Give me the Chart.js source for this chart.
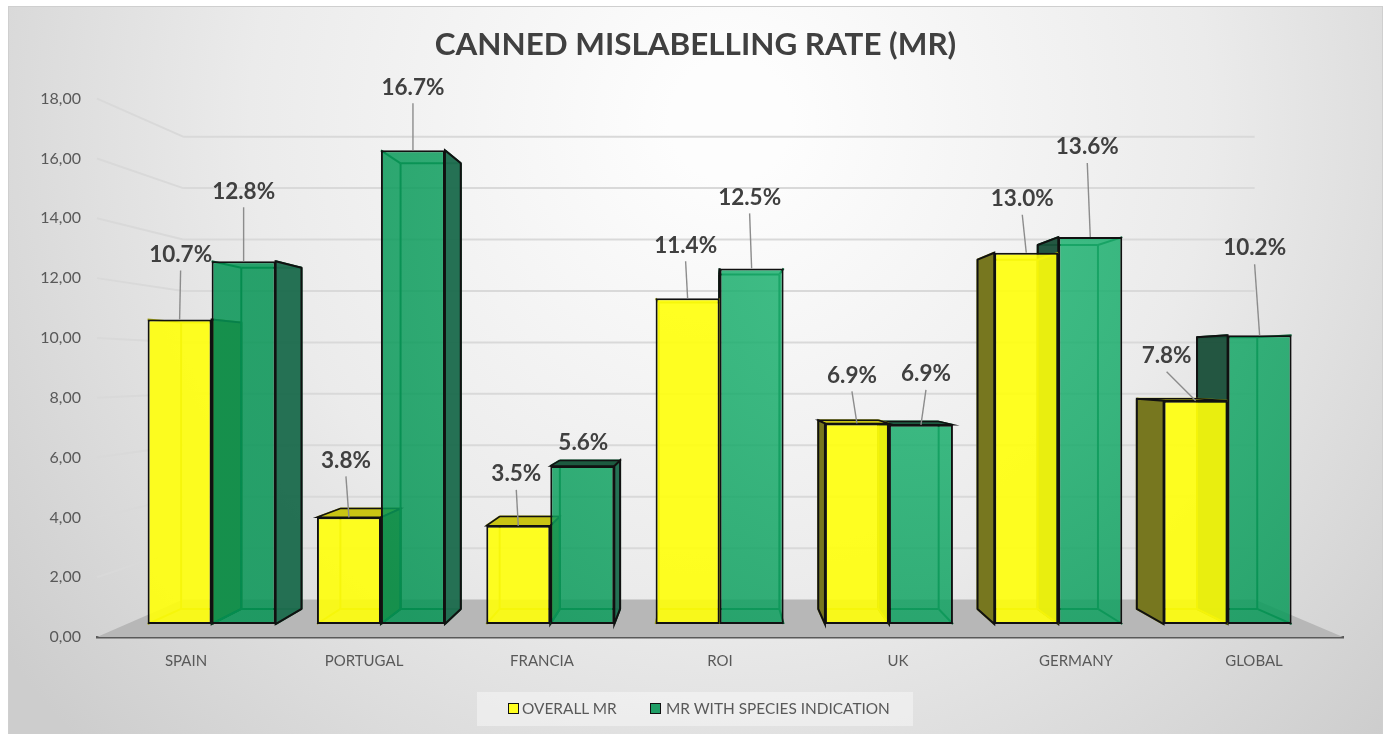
<!DOCTYPE html>
<html>
<head>
<meta charset="utf-8">
<title>Canned mislabelling rate</title>
<style>
  html, body { margin: 0; padding: 0; background: #fff; }
  canvas { display: block; }
  #wrap { position: relative; width: 1386px; height: 734px; overflow: hidden; }
  #legenda {
    position: absolute; left: 477px; top: 692px; width: 436px; height: 34px;
    background: rgba(255,255,255,0.4);
    font: 15.4px Lato; color: #595959;
  }
  .legenda-cor { position: absolute; top: 11px; width: 11px; height: 11px; box-sizing: border-box; border: 1.5px solid #111; }
  .legenda-txt { position: absolute; top: 7px; white-space: nowrap; }
</style>
</head>
<body>
<div id="wrap">
  <canvas id="grafico" width="1386" height="734"></canvas>
  <div id="legenda"></div>
</div>
<script src="https://cdn.jsdelivr.net/npm/chart.js@4"></script>
<script>
const categories = ['SPAIN', 'PORTUGAL', 'FRANCIA', 'ROI', 'UK', 'GERMANY', 'GLOBAL'];
// bar heights
const overallMr = [10.7, 3.75, 3.45, 11.45, 7.05, 13.05, 7.85];
const speciesMr = [12.75, 16.65, 5.55, 12.5, 7.0, 13.6, 10.15];
// printed labels, they differ a little from the heights in the original
const overallLabels = ['10.7%', '3.8%', '3.5%', '11.4%', '6.9%', '13.0%', '7.8%'];
const speciesLabels = ['12.8%', '16.7%', '5.6%', '12.5%', '6.9%', '13.6%', '10.2%'];
const yTickLabels = ['0,00', '2,00', '4,00', '6,00', '8,00', '10,00', '12,00', '14,00', '16,00', '18,00'];

// where each value label sits, relative to the top centre of its bar
const overallLabelOffsets = [[1, -65], [-3, -57], [-2, -52], [-2, -53], [-5, -48], [-4, -54], [-29, -45]];
const speciesLabelOffsets = [[0, -70], [0, -63], [1, -23], [-2, -71], [5, -51], [-3, -90], [-5, -87]];

// perspective of the picture
const area = { left: 97, right: 1343, top: 98, bottom: 637 };
const vp = { x: 712, y: 370 };
const wallK = 0.14;   // front of the axes -> back wall
const frontK = 0.0487; // front of the axes -> front of the bars
const depthK = 0.0593; // front of the bars -> back of the bars

const pxPerUnit = (area.bottom - area.top) / 18;
const groupStep = (area.right - area.left) / categories.length * (1 - frontK);
const firstGroupX = toward({ x: area.left + (area.right - area.left) / categories.length / 2, y: 0 }, frontK).x;
const baseY = toward({ x: 0, y: area.bottom }, frontK).y;

function toward(p, k) {
  return { x: p.x + k * (vp.x - p.x), y: p.y + k * (vp.y - p.y) };
}

const estilos = {
  yellow: { sideL: '#77771f', sideR: '#77771f', top: '#c9c414', inner: 'rgba(160,160,0,0.9)' },
  green: { sideL: 'rgba(24,78,56,0.95)', sideR: 'rgba(30,108,78,0.97)', top: '#1d5a40', inner: '#005f30' }
};

function drawPoly(ctx, pts, fill, stroke, width) {
  ctx.beginPath();
  pts.forEach((p, i) => i ? ctx.lineTo(p.x, p.y) : ctx.moveTo(p.x, p.y));
  ctx.closePath();
  if (fill) { ctx.fillStyle = fill; ctx.fill(); }
  if (stroke) { ctx.strokeStyle = stroke; ctx.lineWidth = width; ctx.stroke(); }
}

function drawLine(ctx, a, b, color, width) {
  ctx.beginPath();
  ctx.moveTo(a.x, a.y);
  ctx.lineTo(b.x, b.y);
  ctx.strokeStyle = color;
  ctx.lineWidth = width;
  ctx.stroke();
}

// everything of one box that lies behind its front face
function drawBox(ctx, el, style) {
  const l = el.x - el.width / 2, r = el.x + el.width / 2;
  const ftl = { x: l, y: el.y }, ftr = { x: r, y: el.y }, fbl = { x: l, y: el.base }, fbr = { x: r, y: el.base };
  const btl = toward(ftl, depthK), btr = toward(ftr, depthK), bbl = toward(fbl, depthK), bbr = toward(fbr, depthK);

  // hidden edges first
  [[btl, btr], [bbl, bbr], [btl, bbl], [btr, bbr], [fbl, bbl], [fbr, bbr], [ftl, btl], [ftr, btr]].forEach(e => {
    drawLine(ctx, e[0], e[1], style.inner, 2);
  });

  if (btl.y < ftl.y) drawPoly(ctx, [ftl, ftr, btr, btl], style.top, '#111', 1.5);
  if (btr.x > ftr.x) drawPoly(ctx, [ftr, btr, bbr, fbr], style.sideR, '#111', 2);
  if (btl.x < ftl.x) drawPoly(ctx, [ftl, btl, bbl, fbl], style.sideL, '#111', 2);
}

const scene3d = {
  id: 'scene3d',
  afterLayout(chart) {
    // the title is centred on the frame, not on the padded box
    chart.titleBlock.left += 8;
    chart.titleBlock.right += 8;
  },
  beforeDraw(chart) {
    const ctx = chart.ctx;
    ctx.save();
    const bg = ctx.createRadialGradient(730, 120, 60, 730, 120, 900);
    bg.addColorStop(0, '#fdfdfd');
    bg.addColorStop(0.5, '#ebebeb');
    bg.addColorStop(1, '#cdcdcd');
    ctx.fillStyle = bg;
    ctx.fillRect(8, 6, 1375, 728);
    ctx.strokeStyle = '#cfcfcf';
    ctx.lineWidth = 1;
    ctx.strokeRect(8.5, 6.5, 1374, 730);
    ctx.restore();
  },
  beforeDatasetsDraw(chart) {
    const ctx = chart.ctx;
    const y = chart.scales.y;
    ctx.save();

    // floor
    const fl = { x: area.left, y: area.bottom }, fr = { x: area.right, y: area.bottom };
    drawPoly(ctx, [fl, fr, toward(fr, wallK), toward(fl, wallK)], '#b7b7b7');

    // wall grid, one line per tick
    y.ticks.forEach((t, i) => {
      if (i === 0) return;
      const py = y.getPixelForTick(i);
      const a = { x: area.left, y: py };
      const b = toward(a, wallK);
      const c = { x: toward({ x: area.right, y: py }, wallK).x, y: b.y };
      drawLine(ctx, a, b, '#d9d9d9', 2);
      drawLine(ctx, b, c, '#d9d9d9', 2);
    });

    // boxes go back to front, the outer one of a pair first
    const m0 = chart.getDatasetMeta(0).data, m1 = chart.getDatasetMeta(1).data;
    categories.forEach((c, i) => {
      if (m0[i].x + m0[i].width / 2 < vp.x) {
        drawBox(ctx, m0[i], estilos.yellow);
        drawBox(ctx, m1[i], estilos.green);
      } else {
        drawBox(ctx, m1[i], estilos.green);
        drawBox(ctx, m0[i], estilos.yellow);
      }
    });
    ctx.restore();
  },
  afterDatasetsDraw(chart) {
    const ctx = chart.ctx;
    ctx.save();
    ctx.textAlign = 'center';
    ctx.textBaseline = 'middle';
    ctx.font = 'bold 22.5px Lato';
    [[overallLabels, overallLabelOffsets], [speciesLabels, speciesLabelOffsets]].forEach((par, d) => {
      const els = chart.getDatasetMeta(d).data;
      par[0].forEach((txt, i) => {
        const el = els[i];
        const lx = el.x + par[1][i][0], ly = el.y + par[1][i][1];
        if (el.y - ly > 30) drawLine(ctx, { x: lx, y: ly + 16 }, { x: el.x, y: el.y }, '#8c8c8c', 1.4);
        ctx.fillStyle = '#404040';
        ctx.fillText(txt, lx, ly);
      });
    });
    ctx.restore();
  }
};

function verde(context) {
  const g = context.chart.ctx.createRadialGradient(920, 230, 100, 920, 230, 640);
  g.addColorStop(0, 'rgba(32,180,115,0.85)');
  g.addColorStop(1, 'rgba(5,148,84,0.85)');
  return g;
}

const chart = new Chart(document.getElementById('grafico'), {
  type: 'bar',
  plugins: [scene3d],
  data: {
    datasets: [
      {
        label: 'OVERALL MR',
        data: overallMr.map((v, i) => ({ x: i, y: v })),
        backgroundColor: 'rgba(255,255,10,0.9)',
        borderColor: '#111',
        borderWidth: 2,
        borderSkipped: false,
        xAxisID: 'xf',
        yAxisID: 'yf',
        categoryPercentage: 0.756,
        barPercentage: 1
      },
      {
        label: 'MR WITH SPECIES INDICATION',
        data: speciesMr.map((v, i) => ({ x: i, y: v })),
        backgroundColor: verde,
        borderColor: '#111',
        borderWidth: 2,
        borderSkipped: false,
        xAxisID: 'xf',
        yAxisID: 'yf',
        categoryPercentage: 0.756,
        barPercentage: 1
      }
    ]
  },
  options: {
    responsive: false,
    animation: false,
    layout: { padding: { left: 32, right: 43, top: 6, bottom: 57 } },
    scales: {
      x: {
        type: 'category',
        labels: categories,
        offset: true,
        z: 1,
        afterFit(scale) { scale.height = 40; },
        grid: { display: false, drawTicks: false },
        border: { display: true, color: '#595959', width: 2.5 },
        ticks: { color: '#595959', font: { family: 'Lato', size: 15 }, padding: 15, maxRotation: 0 }
      },
      y: {
        min: 0,
        max: 18,
        afterFit(scale) { scale.width = 65; },
        grid: { display: false, drawTicks: false },
        border: { display: false },
        ticks: {
          stepSize: 2,
          color: '#595959',
          padding: 16,
          font: { family: 'Lato', size: 16 },
          callback: (v, i) => yTickLabels[i]
        }
      },
      // front plane of the bars, same chart area but pulled toward the vanishing point
      xf: {
        type: 'linear',
        axis: 'x',
        display: false,
        offset: false,
        min: (area.left - firstGroupX) / groupStep,
        max: (area.right - firstGroupX) / groupStep
      },
      yf: {
        type: 'linear',
        axis: 'y',
        display: false,
        min: (baseY - area.bottom) / (pxPerUnit * (1 - frontK)),
        max: (baseY - area.top) / (pxPerUnit * (1 - frontK))
      }
    },
    plugins: {
      tooltip: { enabled: false },
      legend: { display: false },
      title: {
        display: true,
        text: 'CANNED MISLABELLING RATE (MR)',
        color: '#404040',
        font: { family: 'Lato', size: 31.4, weight: 'bold' },
        padding: { top: 20, bottom: 35 }
      }
    }
  }
});

// legenda em HTML, posicoes relativas a caixa
const legendaContainer = document.getElementById('legenda');
const legendaCores = ['#ffff20', '#1f9e66'];
const legendaBox = [31, 173];
const legendaTexto = [45, 189];
chart.data.datasets.forEach((d, i) => {
  legendaContainer.insertAdjacentHTML('beforeend',
    `<span class="legenda-cor" style="left:${legendaBox[i]}px;background:${legendaCores[i]}"></span>` +
    `<span class="legenda-txt" style="left:${legendaTexto[i]}px">${d.label}</span>`);
});
</script>
</body>
</html>
